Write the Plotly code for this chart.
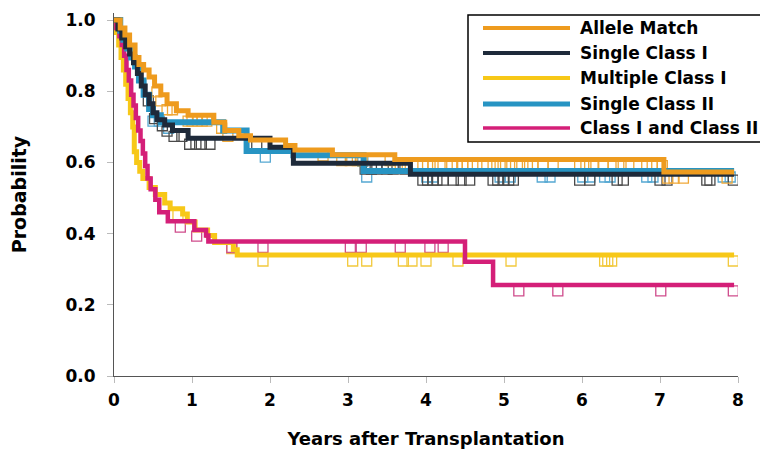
import plotly.graph_objects as go

# ---------------- data ----------------
series_names = ["Allele Match", "Single Class I", "Multiple Class I",
                "Single Class II", "Class I and Class II"]

end_time = 7.95

# Allele Match
allele_t = [0, 0.08, 0.14, 0.2, 0.27, 0.32, 0.38, 0.45, 0.52, 0.6, 0.68, 0.8,
            0.95, 1.28, 1.42, 1.6, 1.75, 2.2, 2.32, 2.8, 3.6, 7.05]
allele_s = [1.0, 0.978, 0.958, 0.93, 0.895, 0.875, 0.86, 0.84, 0.815, 0.79, 0.765,
            0.745, 0.733, 0.713, 0.69, 0.675, 0.663, 0.648, 0.635, 0.622, 0.608, 0.573]
allele_c = [0.55, 0.6, 0.68, 0.75, 0.95, 1.0, 1.07, 1.13, 1.19, 1.38, 1.46, 2.68, 2.92,
            3.03, 3.12, 3.18, 3.54, 3.67, 3.76, 3.96, 4.02, 4.09, 4.18, 4.33, 4.4,
            4.47, 4.53, 4.6, 4.78, 4.86, 4.95, 5.02, 5.1, 5.2, 5.3, 5.37, 5.5, 5.63,
            5.97, 6.05, 6.15, 6.27, 6.4, 6.5, 6.6, 6.83, 6.9, 7.03, 7.1, 7.18, 7.3, 7.86]

# Single Class I
single1_t = [0, 0.05, 0.1, 0.15, 0.2, 0.25, 0.3, 0.35, 0.4, 0.45, 0.5, 0.55, 0.65,
             0.75, 0.95, 2.0, 2.3, 3.8]
single1_s = [1.0, 0.975, 0.95, 0.925, 0.905, 0.88, 0.85, 0.815, 0.79, 0.765, 0.74,
             0.72, 0.705, 0.69, 0.668, 0.643, 0.598, 0.567]
single1_c = [0.44, 0.52, 0.62, 0.68, 0.77, 0.87, 0.97, 1.05, 1.12, 1.23, 1.83, 3.22,
             3.3, 3.37, 3.5, 3.58, 3.73, 3.96, 4.02, 4.09, 4.14, 4.22, 4.35, 4.45,
             4.56, 4.86, 4.92, 5.0, 5.06, 5.12, 5.97, 6.1, 6.45, 6.53, 7.0, 7.09,
             7.6, 7.64, 7.94]

# Multiple Class I
multi1_t = [0, 0.03, 0.06, 0.09, 0.12, 0.15, 0.18, 0.21, 0.24, 0.26, 0.29, 0.33,
            0.37, 0.45, 0.53, 0.65, 0.72, 0.88, 0.94, 1.04, 1.2, 1.29, 1.53, 1.58]
multi1_s = [1.0, 0.965, 0.93, 0.895, 0.86, 0.82, 0.78, 0.74, 0.7, 0.63, 0.6, 0.575,
            0.555, 0.53, 0.51, 0.486, 0.47, 0.455, 0.433, 0.41, 0.395, 0.375, 0.355, 0.34]
multi1_c = [0.82, 1.51, 1.91, 3.06, 3.24, 3.71, 3.82, 4.0, 4.41, 5.09, 6.29, 6.33,
            6.38, 7.94]

# Single Class II
single2_t = [0, 0.08, 0.12, 0.17, 0.22, 0.27, 0.32, 0.38, 0.45, 0.5, 0.6, 1.4,
             1.7, 2.3, 3.2]
single2_s = [1.0, 0.97, 0.945, 0.92, 0.895, 0.87, 0.83, 0.79, 0.75, 0.733, 0.713,
             0.69, 0.632, 0.62, 0.576]
single2_c = [0.5, 0.58, 0.7, 1.94, 3.19, 3.24, 4.01, 4.09, 4.95, 5.08, 5.49, 5.59,
             6.01, 6.1, 6.29, 6.36, 6.83, 6.91, 7.81, 7.9]

# Class I and Class II
both_t = [0, 0.03, 0.07, 0.1, 0.13, 0.16, 0.19, 0.22, 0.25, 0.28, 0.31, 0.34, 0.37,
          0.4, 0.43, 0.47, 0.53, 0.58, 0.69, 1.03, 1.18, 1.21, 4.5, 4.86]
both_s = [1.0, 0.978, 0.955, 0.93, 0.9, 0.86, 0.83, 0.79, 0.76, 0.725, 0.69, 0.66,
          0.625, 0.59, 0.555, 0.525, 0.495, 0.46, 0.435, 0.41, 0.395, 0.378, 0.321, 0.256]
both_c = [0.85, 1.06, 1.51, 1.91, 3.03, 3.17, 3.67, 4.05, 4.22, 5.19, 5.69, 7.01, 7.94]

x_ticks = [0, 1, 2, 3, 4, 5, 6, 7, 8]
y_ticks = [0.0, 0.2, 0.4, 0.6, 0.8, 1.0]

# ---------------- styles ----------------
line_colors = ["#EE9B1E", "#1E2A3A", "#F7C818", "#2794C3", "#D41F78"]
cens_colors = ["#EFA838", "#4A4A4A", "#F2C93C", "#55A8D2", "#CF4C8C"]
line_widths = [5, 5, 5, 6, 4.5]
draw_order = [2, 4, 3, 1, 0]   # yellow, magenta, blue, navy, orange on top

series = [(allele_t, allele_s, allele_c), (single1_t, single1_s, single1_c),
          (multi1_t, multi1_s, multi1_c), (single2_t, single2_s, single2_c),
          (both_t, both_s, both_c)]

# page has an 8px body margin: the figure is sized so it fills the 768x453 window
PAGE_OFF = 8
W, H = 768 - PAGE_OFF, 453 - PAGE_OFF
ML, MR, MT, MB = 114 - PAGE_OFF, 30, 13 - PAGE_OFF, 77
Y_MAX = 1.02
plot_h = H - MT - MB
plot_w = W - ML - MR
px_per_unit = plot_h / Y_MAX
cens_offset = 6 / px_per_unit   # squares hang just below the curve


def surv_at(ts, ss, t):
    val = ss[0]
    for ti, si in zip(ts, ss):
        if ti <= t:
            val = si
    return val


FONT = "DejaVu Sans"

fig = go.Figure()

# censor marks first (beneath the curves)
for i in draw_order:
    ts, ss, cs = series[i]
    fig.add_trace(go.Scatter(
        x=cs, y=[surv_at(ts, ss, c) - cens_offset for c in cs],
        mode="markers",
        marker=dict(symbol="square-open", size=10, color=cens_colors[i],
                    line=dict(width=1.3, color=cens_colors[i])),
        showlegend=False, hoverinfo="skip"))

for i in draw_order:
    ts, ss, cs = series[i]
    fig.add_trace(go.Scatter(
        x=list(ts) + [end_time], y=list(ss) + [ss[-1]],
        mode="lines", line=dict(color=line_colors[i], width=line_widths[i], shape="hv"),
        name=series_names[i], showlegend=False))


# ---------------- manual legend (positions given in window pixels) ----------------
def px_x(p):
    return (p - PAGE_OFF - ML) / plot_w


def px_y(p):
    return (H - MB - (p - PAGE_OFF)) / plot_h


fig.add_shape(type="rect", xref="paper", yref="paper",
              x0=px_x(468), x1=px_x(766), y0=px_y(142), y1=px_y(15),
              line=dict(color="black", width=1.5), fillcolor="white", layer="above")
row_y = [28, 53, 78, 104, 128]
for i, name in enumerate(series_names):
    fig.add_shape(type="line", xref="paper", yref="paper",
                  x0=px_x(483), x1=px_x(570), y0=px_y(row_y[i]), y1=px_y(row_y[i]),
                  line=dict(color=line_colors[i], width=line_widths[i] - 1), layer="above")
    fig.add_annotation(xref="paper", yref="paper", x=px_x(578), y=px_y(row_y[i]),
                       text="<b>%s</b>" % name, showarrow=False, xanchor="left",
                       yanchor="middle", font=dict(family=FONT, size=17, color="black"))

fig.update_layout(
    width=W, height=H,
    margin=dict(l=ML, r=MR, t=MT, b=MB, autoexpand=False),
    paper_bgcolor="white", plot_bgcolor="white",
    font=dict(family=FONT, color="black"),
    showlegend=False,
)
fig.update_xaxes(
    range=[0, 8], tickvals=x_ticks, ticktext=["<b>%d</b>" % v for v in x_ticks],
    tickfont=dict(family=FONT, size=17, color="black"), automargin=False,
    showgrid=False, zeroline=False, showline=True, linecolor="#555", linewidth=1,
    ticks="outside", ticklen=6, tickcolor="#BBBBBB", ticklabelstandoff=3,
    title=dict(text="<b>Years after Transplantation</b>", standoff=22,
               font=dict(family=FONT, size=18, color="black")),
)
fig.update_yaxes(
    range=[0, Y_MAX], tickvals=y_ticks, ticktext=["<b>%.1f</b>" % v for v in y_ticks],
    tickfont=dict(family=FONT, size=17, color="black"), automargin=False,
    showgrid=False, zeroline=False, showline=True, linecolor="#555", linewidth=1,
    ticks="outside", ticklen=6, tickcolor="#BBBBBB", ticklabelstandoff=8,
    title=dict(text="<b>Probability</b>", standoff=35,
               font=dict(family=FONT, size=19, color="black")),
)

fig.write_html("out.html")
